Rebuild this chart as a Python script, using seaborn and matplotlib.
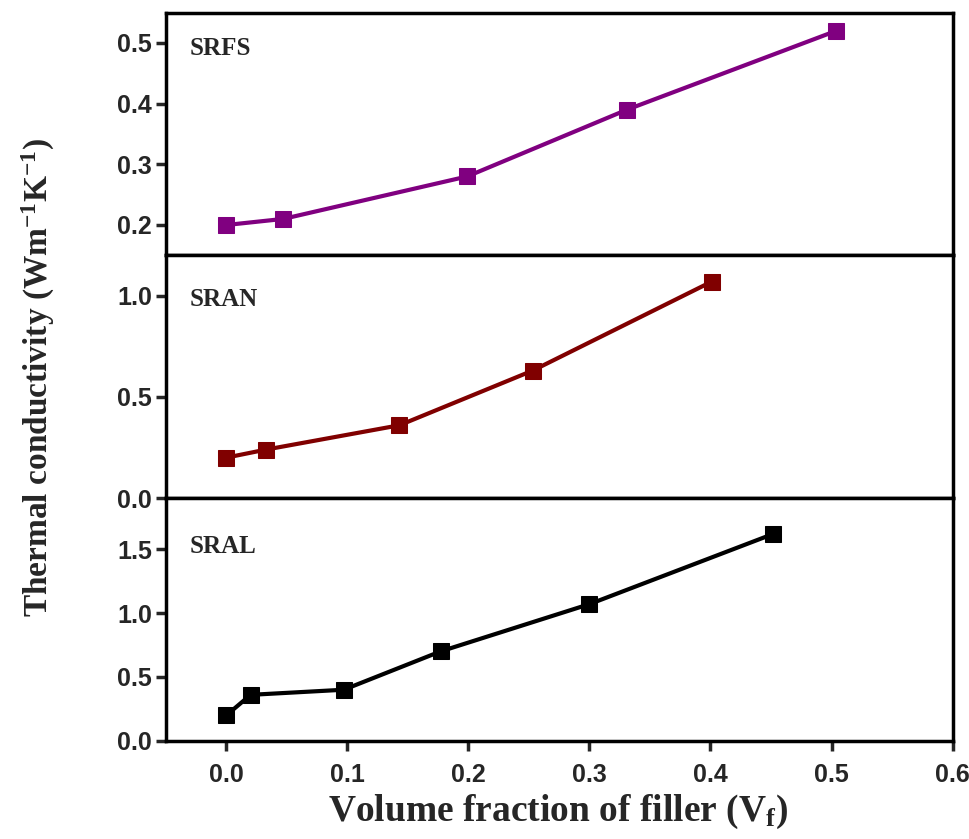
"""Thermal conductivity vs filler volume fraction — three stacked panels."""
import matplotlib
matplotlib.use("Agg")
import matplotlib.pyplot as plt
import pandas as pd
import seaborn as sns

# ── data ──────────────────────────────────────────────────────────────
srfs_x = [0.0, 0.047, 0.199, 0.331, 0.504]
srfs_y = [0.20, 0.21, 0.28, 0.39, 0.52]

sran_x = [0.0, 0.033, 0.143, 0.253, 0.401]
sran_y = [0.20, 0.24, 0.36, 0.63, 1.07]

sral_x = [0.0, 0.020, 0.097, 0.177, 0.300, 0.452]
sral_y = [0.20, 0.36, 0.40, 0.70, 1.07, 1.62]

panel_names = ["SRFS", "SRAN", "SRAL"]
panel_colors = ["#800080", "#800000", "#000000"]
panel_ylims = [(0.15, 0.55), (0.0, 1.2), (0.0, 1.9)]
panel_yticks = [[0.2, 0.3, 0.4, 0.5], [0.0, 0.5, 1.0], [0.0, 0.5, 1.0, 1.5]]
label_heights = [0.85, 0.82, 0.80]
x_ticks = [0.0, 0.1, 0.2, 0.3, 0.4, 0.5, 0.6]

sns.set_style("ticks")
plt.rcParams["font.family"] = ["Liberation Sans", "DejaVu Sans"]
plt.rcParams["mathtext.fontset"] = "custom"
plt.rcParams["mathtext.rm"] = "Liberation Serif:bold"
plt.rcParams["mathtext.it"] = "Liberation Serif:bold"
plt.rcParams["mathtext.bf"] = "Liberation Serif:bold"

fig, axes = plt.subplots(3, 1, figsize=(9.7, 8.39), dpi=100, sharex=True)
fig.subplots_adjust(left=0.171, right=0.982, top=0.985, bottom=0.117, hspace=0)

series = [(srfs_x, srfs_y), (sran_x, sran_y), (sral_x, sral_y)]
for ax, (xs, ys), name, color, ylim, yt, ly in zip(
    axes, series, panel_names, panel_colors, panel_ylims, panel_yticks, label_heights
):
    df = pd.DataFrame({"x": xs, "y": ys})
    sns.lineplot(
        data=df, x="x", y="y", ax=ax, color=color, marker="s",
        markersize=11, markeredgecolor=color, linewidth=3, sort=False,
    )
    ax.set_ylim(*ylim)
    ax.set_yticks(yt)
    ax.set_yticklabels([f"{v:.1f}" for v in yt], fontsize=18, fontweight="bold")
    ax.set_xlim(-0.05, 0.6)
    ax.set_xlabel("")
    ax.set_ylabel("")
    for s in ax.spines.values():
        s.set_linewidth(2.5)
        s.set_color("black")
    ax.tick_params(axis="y", direction="out", length=7, width=2.5, pad=3)
    ax.tick_params(axis="x", direction="out", length=7, width=2.5, pad=9)
    ax.text(0.03, ly, name, transform=ax.transAxes, fontsize=18, va="center",
            fontweight="bold", family="Liberation Serif")

for ax in axes[:-1]:
    ax.tick_params(axis="x", bottom=False, labelbottom=False)

axes[-1].set_xticks(x_ticks)
axes[-1].set_xticklabels([f"{v:.1f}" for v in x_ticks], fontsize=18, fontweight="bold")

fig.text(0.575, 0.032, r"Volume fraction of filler (V$_f$)", fontsize=27,
         fontweight="bold", family="Liberation Serif", ha="center", va="center")
fig.text(0.04, 0.55, r"Thermal conductivity (Wm$^{-1}$K$^{-1}$)", rotation=90,
         fontsize=24, fontweight="bold", family="Liberation Serif",
         ha="center", va="center")

fig.savefig("out.png", dpi=100)
plt.close(fig)
